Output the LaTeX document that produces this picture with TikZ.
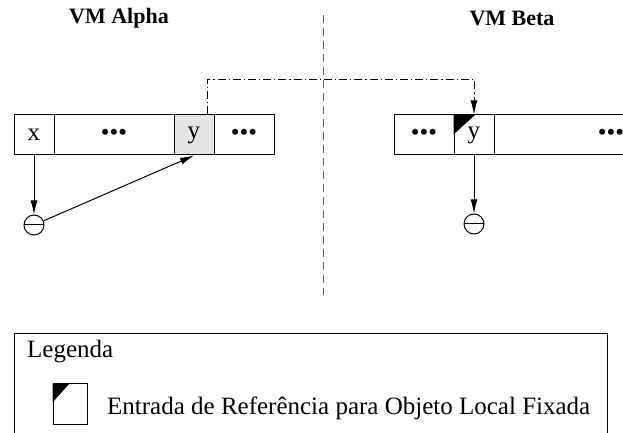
\documentclass[tikz,border=0pt]{standalone}
\usepackage{fontspec}
\setmainfont{Liberation Serif}
\usetikzlibrary{arrows.meta}
\tikzset{
  >={Latex[length=7pt,width=3.5pt]},
  cell/.style={draw, minimum height=20pt, inner sep=0pt, font=\fontsize{12.5}{15}\selectfont},
  nullref/.style={circle, draw, minimum size=10pt, inner sep=0pt,
    path picture={\draw (path picture bounding box.west) -- (path picture bounding box.east);}},
  title/.style={font=\fontsize{11}{13}\selectfont\bfseries},
  dashdot/.style={dash pattern=on 4pt off 1.5pt on 0.6pt off 1.5pt}
}
\newcommand{\celldots}{\textbullet\textbullet\textbullet}
\begin{document}
\begin{tikzpicture}[x=0.5pt, y=-0.5pt, line width=0.5pt]
\useasboundingbox (0,0) rectangle (623,433);
% titulos
\node[title] (alpha) at (119,18) {VM Alpha};
\node[title] (beta) at (512,18) {VM Beta};
\draw[dashed, gray!80!black, dash pattern=on 4pt off 2.5pt] (323,15) -- (323,295);
% VM Alpha
\node[cell, minimum width=20pt] (xa) at (34,135) {x};
\node[cell, minimum width=60pt] (la) at (114,135) {\celldots};
\node[cell, minimum width=20pt, fill=gray!20] (ya) at (194,135) {y};
\node[cell, minimum width=30pt] (ra) at (244,135) {\celldots};
\node[nullref] (na) at (34,225) {};
\draw[->] (xa) -- (na);
\draw[->] (na) -- (ya.south);
% VM Beta
\node[cell, minimum width=30pt] (lb) at (424,135) {\celldots};
\node[cell, minimum width=20pt] (yb) at (474,135) {y};
\node[cell, minimum width=117pt] (rb) at (611,135) {\celldots};
\fill (yb.north west) -- ++(22,0) -- ++(-22,20) -- cycle;
\node[nullref] (nb) at (474,224) {};
\draw[->] (yb) -- (nb);
% referencia remota
\draw[dashdot, ->] ([xshift=6.5pt]ya.north) -- ++(0,-35) -| (yb.north);
% legenda
\draw (14,334) rectangle (607,460);
\node[anchor=west, font=\fontsize{12.5}{15}\selectfont] (leg) at (20,352) {Legenda};
\node[draw, minimum width=17pt, minimum height=20.5pt, inner sep=0pt] (key) at (70,404.5) {};
\fill (key.north west) -- ++(17,0) -- ++(-17,19) -- cycle;
\node[anchor=west, font=\fontsize{12.5}{15}\selectfont] (keytext) at (100,408) {Entrada de Referência para Objeto Local Fixada};
\end{tikzpicture}
\end{document}
